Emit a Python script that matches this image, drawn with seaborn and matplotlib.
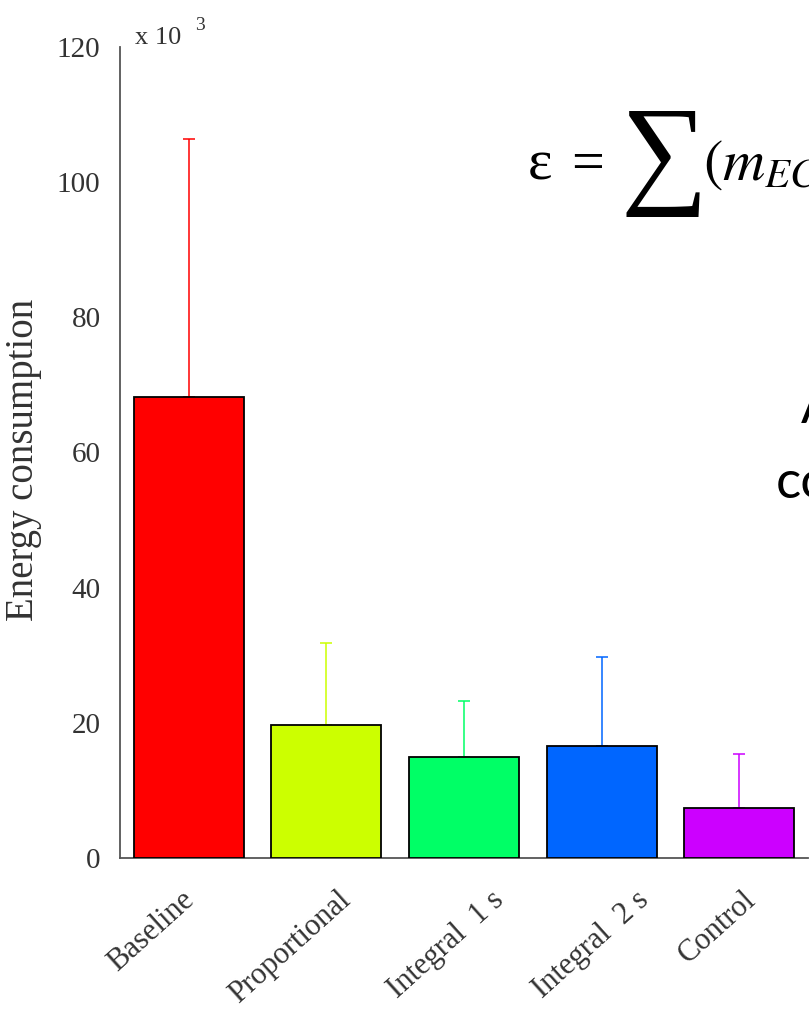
import matplotlib
matplotlib.use("Agg")
import matplotlib.pyplot as plt
import matplotlib.transforms as mtransforms
import seaborn as sns
import numpy as np

# Data (values in units of 10^3)
categories = ["Baseline", "Proportional", "Integral  1 s", "Integral  2 s", "Control"]
means = [68.2, 19.7, 14.9, 16.6, 7.4]
err_upper = [38.2, 12.1, 8.3, 13.1, 8.0]
colors = ["#FF0000", "#CCFF00", "#00FF66", "#0066FF", "#CC00FF"]
yticks = [0, 20, 40, 60, 80, 100, 120]

# label x-offsets in pixels (style only)
label_shift_px = [-38, -36, -18, -10, -22]

sns.set_theme(style="white")
plt.rcParams["font.family"] = ["Liberation Serif", "DejaVu Serif"]

W, H = 809, 1016
fig = plt.figure(figsize=(W / 100, H / 100), dpi=100)
ax = fig.add_axes([120 / W, (H - 858) / H, (808 - 120) / W, (858 - 47) / H])

sns.barplot(x=categories, y=means, hue=categories, palette=colors, legend=False,
            saturation=1, edgecolor="black", linewidth=1.3, width=0.8, ax=ax, zorder=3)

xpos = np.arange(len(categories))
for i in range(len(categories)):
    ax.errorbar(xpos[i], means[i], yerr=[[0], [err_upper[i]]], color=colors[i],
                elinewidth=1.1, capsize=4.5, capthick=1.1, fmt="none", zorder=2)

ax.set_xlim(-0.5, 4.5)
ax.set_ylim(0, 120)
ax.set_yticks(yticks)
ax.set_yticklabels([str(t) for t in yticks], fontsize=21, color="#333333")
ax.tick_params(axis="y", direction="in", length=8, width=1.2, color="#444444", pad=14)
ax.tick_params(axis="x", length=0, pad=20)
ax.set_xticks(xpos)
ax.set_xticklabels(categories, rotation=42, ha="center", va="top", fontsize=22,
                   color="#333333")
for lbl, dx in zip(ax.get_xticklabels(), label_shift_px):
    shift = mtransforms.ScaledTranslation(dx / 100, 0, fig.dpi_scale_trans)
    lbl.set_transform(lbl.get_transform() + shift)
for s in ["top", "right"]:
    ax.spines[s].set_visible(False)
for s in ["left", "bottom"]:
    ax.spines[s].set_color("#555555")
    ax.spines[s].set_linewidth(1.3)
ax.set_ylabel("Energy consumption", fontsize=28, color="#333333")
ax.yaxis.set_label_coords(-0.113, (858 - 460) / 811)
ax.set_xlabel("")

# multiplier label
fig.text(135 / W, 1 - 44 / H, "x 10", fontsize=19, color="#333333",
         va="baseline", ha="left")
fig.text(195 / W, 1 - 30 / H, "3", fontsize=14, color="#333333",
         va="baseline", ha="left")

# Overlay slide text (cut off at the right)
serif = ["Liberation Serif", "DejaVu Serif"]
fig.text(528 / W, 1 - 180 / H, "ε", fontsize=42, color="black", va="baseline",
         ha="left", family=serif)
fig.text(571 / W, 1 - 180 / H, "=", fontsize=42, color="black", va="baseline",
         ha="left", family=serif)
fig.text(620 / W, 1 - 161 / H, "∑", fontsize=88, color="black", va="center",
         ha="left", family=serif)
fig.text(703 / W, 1 - 180 / H, r"$(m_{EC}$", fontsize=42, color="black",
         va="baseline", ha="left", math_fontfamily="stix")
fig.text(801 / W, 1 - 423 / H, "A", fontsize=38, color="black", va="baseline",
         ha="left", family=["Lato", "DejaVu Sans"])
fig.text(776 / W, 1 - 498 / H, "co", fontsize=38, color="black", va="baseline",
         ha="left", family=["Lato", "DejaVu Sans"])

fig.savefig("out.png", dpi=100)
